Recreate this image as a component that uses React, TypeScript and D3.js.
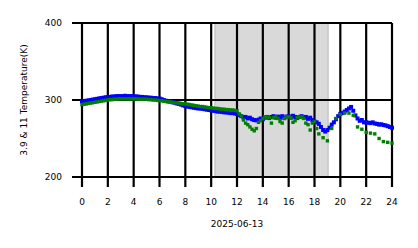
import React from "react";
import * as d3 from "d3";

const xTicks = [0, 2, 4, 6, 8, 10, 12, 14, 16, 18, 20, 22, 24];
const yTicks = [200, 300, 400];
const xLabel = "2025-06-13";
const yLabel = "3.9 & 11 Temperature(K)";
const shadeStart = 10.3;
const shadeEnd = 19.05;

// 10-minute samples, 00:00 .. 24:00
const blue39: (number | null)[] = [
  298, 298.5, 299, 299.5, 300, 300.5,
  301, 301.5, 302, 302.5, 303, 303.5,
  304, 304, 304.5, 304.5, 305, 305,
  305, 305, 305.5, 305, 305, 305,
  305, 304.5, 304.5, 304, 304, 303.5,
  303.5, 303, 303, 302.5, 302.5, 302,
  302, 301, 300, 299, 298.5, 298,
  297, 296.5, 295.5, 295, 294, 293,
  292, 291.5, 291, 290.5, 290, 289.5,
  289, 289, 288.5, 288, 287.5, 287,
  286.5, 286, 285.5, 285, 285, 284.5,
  284, 284, 283.5, 283, 283, 282.5,
  282, 280.5, 279, 277.5, 278, 276,
  277, 275, 274, 273.5, 274.5, 276,
  275, 277, 278, 276.5, 278, 279,
  277, 278.5, 277, 279, 276.5, 278.5,
  279, 277, 279.5, 278, 276.5, 278,
  279, 277, 278, 275.5, 277, 274,
  272, 271, 269, 265, 261, 259,
  261, 264, 268, 271, 275, 279,
  282, 283, 285, 287, 289, 291,
  286, 280, 276, 273, 274, 271,
  271, 270.5, 270, 271, 269.5, 269,
  268, 268.5, 267.5, 267, 266, 265,
  264,
];

const green11: (number | null)[] = [
  294, 294.5, 295, 295.5, 296, 296.5,
  297, 297.5, 298, 298.5, 299, 299.5,
  300, 300.5, 300.5, 301, 301, 301.5,
  301.5, 301.5, 301.5, 301.5, 301.5, 301.5,
  301.5, 301.5, 301, 301, 301, 301,
  301, 300.5, 300.5, 300, 300, 299.5,
  299, 299, 298.5, 298, 297.5, 297.5,
  297, 296.5, 296.5, 296, 295.5, 295,
  295, 294.5, 294, 293.5, 293, 292.5,
  292, 291.5, 291.5, 291, 290.5, 290,
  290, 289.5, 289, 289, 288.5, 288,
  288, 287.5, 287.5, 287, 287, 286.5,
  286, 282, 279, 274, 270, 268,
  265, 262, 260, 263, 271, 273,
  276, 278, 278, 277, 270, 277,
  278, 276, 272, 270, 276, 278,
  278, 277, 271, 273, 277, 278,
  278, 276, 270, 268, 261, 270,
  272, 263, 256, null, 251, null,
  247, null, 263, null, 276, null,
  281, null, 283, null, 283, null,
  280, null, 265, null, 262, null,
  258, null, 257, null, 256, null,
  250, null, 246, null, 245, null,
  244,
];

const W = 418;
const H = 248;
const margin = { left: 82, right: 26, top: 23, bottom: 71 };

export default function App() {
  const x = d3.scaleLinear().domain([0, 24]).range([margin.left, W - margin.right]);
  const y = d3.scaleLinear().domain([200, 400]).range([H - margin.bottom, margin.top]);
  const hours = (i: number) => i / 6;
  const font = "DejaVu Sans, sans-serif";
  const bs = 4;
  const gs = 3.4;

  return (
    <svg
      width={W}
      height={H}
      style={{ position: "absolute", left: 0, top: 0, background: "#fff" }}
      fontFamily={font}
    >
      <rect
        x={x(shadeStart)}
        y={y(400)}
        width={x(shadeEnd) - x(shadeStart)}
        height={y(200) - y(400)}
        fill="#d9d9d9"
        stroke="#c6c6c6"
        strokeWidth={1.5}
      />
      {xTicks.map((t) => (
        <line
          key={"vx" + t}
          x1={x(t)}
          x2={x(t)}
          y1={y(400)}
          y2={y(200) + 10}
          stroke="#000"
          strokeWidth={2.2}
        />
      ))}
      {yTicks.map((t) => (
        <line
          key={"hy" + t}
          x1={x(0) - 10}
          x2={x(24)}
          y1={y(t)}
          y2={y(t)}
          stroke="#000"
          strokeWidth={2.2}
        />
      ))}
      {blue39.map((v, i) =>
        v == null ? null : (
          <rect
            key={"b" + i}
            x={x(hours(i)) - bs / 2}
            y={y(v) - bs / 2}
            width={bs}
            height={bs}
            fill="#0000ff"
          />
        )
      )}
      {green11.map((v, i) =>
        v == null ? null : (
          <rect
            key={"g" + i}
            x={x(hours(i)) - gs / 2}
            y={y(v) - gs / 2}
            width={gs}
            height={gs}
            fill="#008000"
          />
        )
      )}
      {xTicks.map((t) => (
        <text key={"xl" + t} x={x(t)} y={y(200) + 28} fontSize={9} textAnchor="middle" fill="#000">
          {t}
        </text>
      ))}
      {yTicks.map((t) => (
        <text key={"yl" + t} x={x(0) - 20} y={y(t) + 3.3} fontSize={9} textAnchor="end" fill="#000">
          {t}
        </text>
      ))}
      <text x={(x(0) + x(24)) / 2} y={227} fontSize={9} textAnchor="middle" fill="#000">
        {xLabel}
      </text>
      <text
        transform={`translate(27, ${(y(200) + y(400)) / 2}) rotate(-90)`}
        fontSize={9}
        textAnchor="middle"
        fill="#000"
      >
        {yLabel}
      </text>
    </svg>
  );
}
